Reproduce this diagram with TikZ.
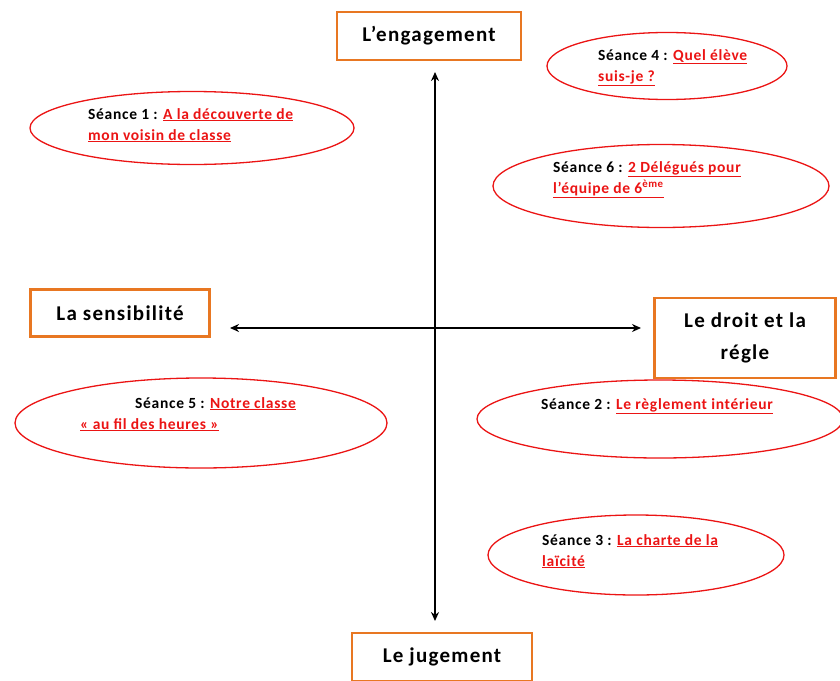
\documentclass[tikz,border=0pt]{standalone}
\usepackage{fontspec}
\setmainfont{Carlito}
\usepackage{tikz}
\usetikzlibrary{positioning}
\usetikzlibrary{shapes.geometric}
\usetikzlibrary{arrows.meta}
\definecolor{boxorange}{RGB}{232,119,34}
\definecolor{seancered}{RGB}{235,20,20}
\newcommand{\lien}[1]{\textcolor{seancered}{\underline{#1}}}
\tikzset{AXstyle/.style={
    x=1pt,y=-1pt,% one unit per pixel, y going down
    >={Stealth[length=9pt,width=8pt]},
    font=\bfseries
  },
  pole/.style={% the four orange boxes
    draw=boxorange,
    line width=2.6pt,
    fill=white,
    font=\fontsize{21}{32}\selectfont\bfseries\addfontfeature{LetterSpace=6},
    align=center,
    inner sep=0pt
  },
  seance/.style={% red ellipses
    draw=seancered,
    line width=1.3pt,
    ellipse,
    inner sep=0pt
  },
  etiquette/.style={
    font=\fontsize{15.5}{21}\selectfont\bfseries\addfontfeature{LetterSpace=4.5},
    align=left,
    anchor=north west,
    inner sep=0pt
  }
}
\begin{document}
\begin{tikzpicture}[AXstyle]
  \useasboundingbox (0,0) rectangle (840,680);
  \begin{scope}
  \clip (0,0) rectangle (840,680);
  % poles
  \node[pole,minimum width=184pt,minimum height=48pt] (eng) at (429,36) {L’engagement};
  \node[pole,minimum width=179pt,minimum height=47pt] (sens) at (120,313) {La sensibilité};
  \node[pole,minimum width=181pt,minimum height=80pt] (droit) at (745,338) {Le droit et la\\régle};
  \node[pole,minimum width=180pt,minimum height=48pt] (jug) at (442,657) {Le jugement};
  \end{scope}
  % axes
  \coordinate (haut) at (435,72);
  \coordinate (bas) at (435,621);
  \coordinate (gauche) at (230,328);
  \coordinate (droite) at (641,328);
  \draw[<->,line width=2pt] (haut) -- (bas);
  \draw[<->,line width=2pt] (gauche) -- (droite);
  % seances
  \node[seance,minimum width=324pt,minimum height=73pt] (s1) at (192,128) {};
  \node[etiquette] (t1) at (88,108) {Séance 1 : \lien{A la découverte de}\\\lien{mon voisin de classe}};
  \node[seance,minimum width=240pt,minimum height=67pt] (s4) at (667,66) {};
  \node[etiquette] (t4) at (598,49) {Séance 4 : \lien{Quel élève}\\\lien{suis-je ?}};
  \node[seance,minimum width=336pt,minimum height=83pt] (s6) at (661,186) {};
  \node[etiquette] (t6) at (553,161) {Séance 6 : \lien{2 Délégués pour}\\\lien{l’équipe de 6\textsuperscript{ème}}};
  \node[seance,minimum width=372pt,minimum height=90pt] (s5) at (201,423) {};
  \node[etiquette] (t5) at (80,397) {\hspace*{55pt}Séance 5 : \lien{Notre classe}\\\lien{« au fil des heures »}};
  \node[seance,minimum width=366pt,minimum height=78pt] (s2) at (660,419) {};
  \node[etiquette] (t2) at (541,398) {Séance 2 : \lien{Le règlement intérieur}};
  \node[seance,minimum width=296pt,minimum height=80pt] (s3) at (636,555) {};
  \node[etiquette] (t3) at (542,534) {Séance 3 : \lien{La charte de la}\\\lien{laïcité}};
\end{tikzpicture}
\end{document}
